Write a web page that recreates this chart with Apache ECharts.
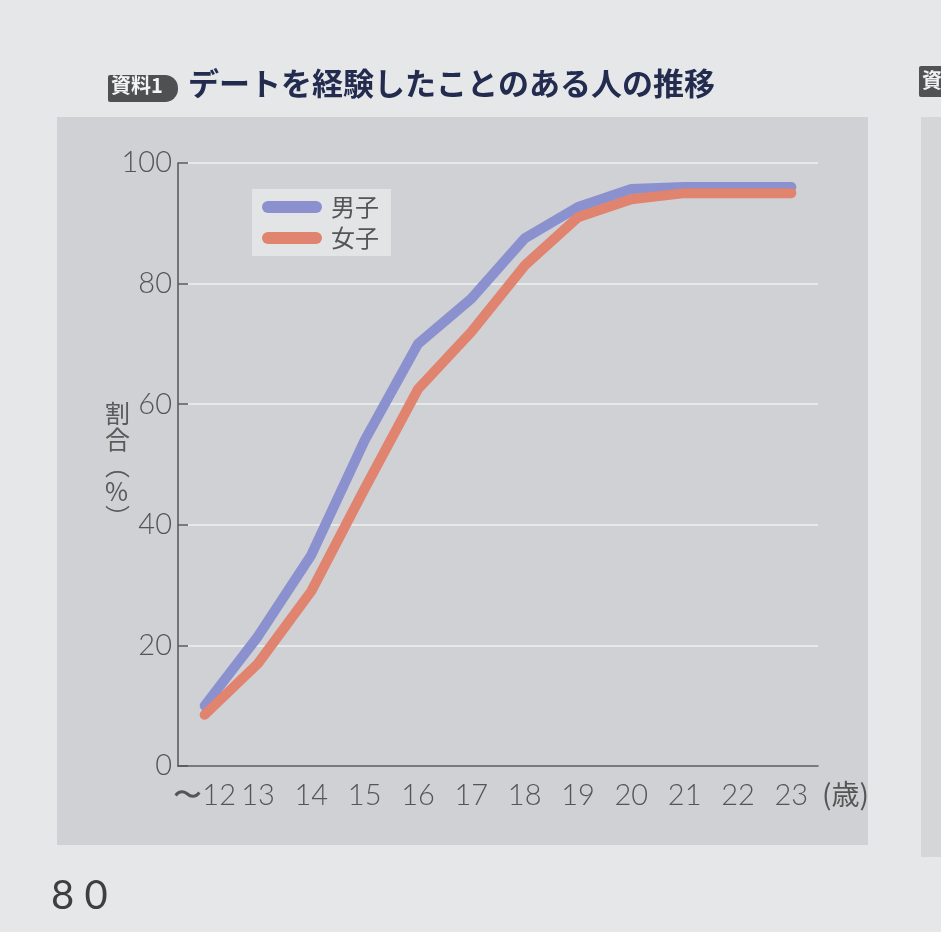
<!DOCTYPE html>
<html>
<head>
    <meta charset="utf-8">
    <title>デートを経験したことのある人の推移</title>
    <script src="https://cdn.jsdelivr.net/npm/echarts@6/dist/echarts.min.js"></script>
    <style>
        html, body { margin: 0; padding: 0; background: #e5e7e9; }
        #chart1 { width: 941px; height: 932px; }
    </style>
</head>
<body>
<div id="chart1"></div>
<script>
    // 年齢（横軸）
    var ages = ['〜12', '13', '14', '15', '16', '17', '18', '19', '20', '21', '22', '23'];
    // 割合（%）
    var boys = [10, 21.5, 35, 54, 70, 77.5, 87.5, 92.7, 95.7, 96, 96, 96];
    var girls = [8.5, 17, 29, 46, 62.5, 72, 83, 91, 94, 95, 95, 95];
    var yTicks = [0, 20, 40, 60, 80, 100];

    var jp = '"Noto Sans CJK JP", "Noto Sans", sans-serif';
    var num = 'Lato, "Noto Sans", sans-serif';
    var capsule = 'path://M6,0 L54,0 A6,6 0 0 1 54,12 L6,12 A6,6 0 0 1 6,0 Z';

    var myChart1 = echarts.init(document.getElementById('chart1'));
    myChart1.setOption({
        backgroundColor: '#e5e7e9',
        animation: false,
        graphic: [
            // グラフの地
            {type: 'rect', z: -100, shape: {x: 57, y: 117, width: 811, height: 728},
                style: {fill: '#cfd1d4'}},
            // 隣のページの地
            {type: 'rect', z: -100, shape: {x: 921, y: 117, width: 30, height: 740},
                style: {fill: '#d4d6d8'}},
            {type: 'rect', z: -100, shape: {x: 919, y: 66, width: 30, height: 31, r: 2},
                style: {fill: '#505254'}},
            {type: 'text', left: 922, top: 70,
                style: {text: '資', fill: '#f2f2f2', font: 'bold 20px ' + jp}},
            // 見出し
            {type: 'rect', shape: {x: 108, y: 75, width: 70, height: 27, r: [2, 13, 13, 2]},
                style: {fill: '#4f5052'}},
            {type: 'text', left: 111, top: 75,
                style: {text: '資料1', fill: '#f4f4f4', font: 'bold 20px ' + jp}},
            {type: 'text', left: 188, top: 68,
                style: {text: 'デートを経験したことのある人の推移', fill: '#232c4f', font: 'bold 31px ' + jp}},
            // 縦軸名
            {type: 'text', left: 105, top: 400,
                style: {text: '割\n合\n︵\n%\n︶', fill: '#5a5a5a', font: '25px ' + jp,
                    lineHeight: 26, align: 'center'}},
            // 単位
            {type: 'text', left: 822, top: 780,
                style: {text: '(歳)', fill: '#555', font: '28px ' + jp}},
            // ページ番号
            {type: 'text', left: 51, top: 876,
                style: {text: '8 0', fill: '#3f3f3f', font: '40px ' + num}}
        ],
        legend: {
            data: ['男子', '女子'],
            orient: 'vertical',
            left: 252,
            top: 189,
            padding: [6, 12, 6, 10],
            backgroundColor: '#e3e4e6',
            itemWidth: 60,
            itemHeight: 12,
            itemGap: 7,
            icon: capsule,
            textStyle: {fontSize: 24, color: '#555', fontFamily: jp, padding: [0, 0, 0, 4]}
        },
        grid: {left: 178, right: 123, top: 163, bottom: 166},
        xAxis: {
            type: 'category',
            data: ages,
            boundaryGap: true,
            axisLine: {lineStyle: {color: '#555', width: 1.5}},
            axisTick: {inside: true, length: 11, alignWithLabel: true, lineStyle: {color: '#555', width: 1.5}},
            axisLabel: {fontSize: 29, color: '#555', fontFamily: num, fontWeight: 300, margin: 15, interval: 0},
            splitLine: {show: false}
        },
        yAxis: {
            type: 'value',
            min: yTicks[0],
            max: yTicks[yTicks.length - 1],
            interval: 20,
            axisLine: {show: true, lineStyle: {color: '#555', width: 1.5}},
            axisTick: {show: true, inside: true, length: 10, lineStyle: {color: '#555', width: 1.5}},
            axisLabel: {fontSize: 29, color: '#555', fontFamily: num, fontWeight: 300, margin: 6},
            splitLine: {lineStyle: {color: '#eef0f1', width: 1.5}}
        },
        series: [{
            name: '男子',
            type: 'line',
            data: boys,
            symbol: 'none',
            itemStyle: {color: '#8b90cf'},
            lineStyle: {color: '#8b90cf', width: 10, join: 'round', cap: 'round'}
        }, {
            name: '女子',
            type: 'line',
            data: girls,
            symbol: 'none',
            itemStyle: {color: '#e0836f'},
            lineStyle: {color: '#e0836f', width: 10, join: 'round', cap: 'round'}
        }]
    });
</script>
</body>
</html>
